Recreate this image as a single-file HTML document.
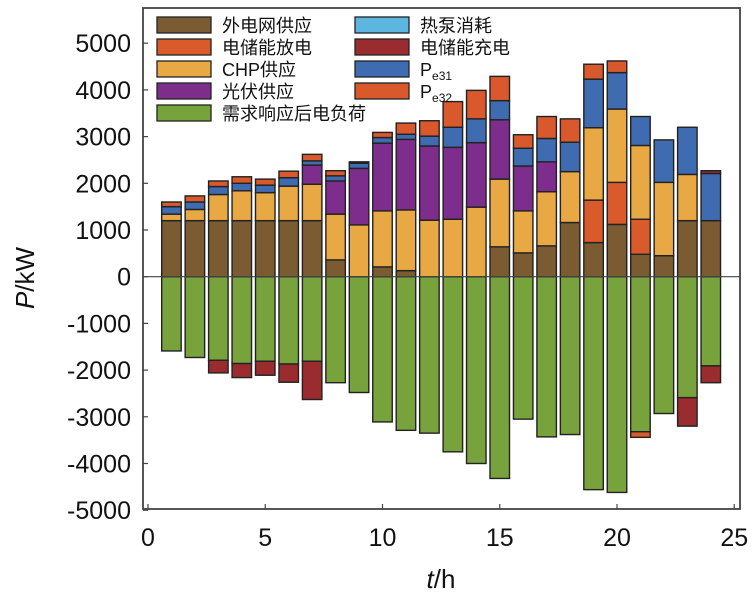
<!DOCTYPE html>
<html><head><meta charset="utf-8"><style>
body{margin:0;background:#fff;}
svg text{font-family:"Liberation Sans","Noto Sans CJK SC",sans-serif;}
</style></head><body>
<svg id="chart" width="755" height="599" viewBox="0 0 755 599" xmlns="http://www.w3.org/2000/svg">
<g id="bars"></g>
<g id="axes"></g>
<g id="legend"></g>
</svg>
<script>
const hours=[1,2,3,4,5,6,7,8,9,10,11,12,13,14,15,16,17,18,19,20,21,22,23,24];
const gridSupply=[1200,1200,1200,1200,1200,1200,1200,360,0,210,130,0,0,0,640,510,660,1160,730,1120,480,450,1200,1200];
const storageDischarge=[0,0,0,0,0,0,0,0,0,0,0,0,0,0,0,0,0,0,910,900,750,0,0,0];
const chpSupply=[140,240,560,640,600,740,780,980,1110,1200,1300,1210,1230,1490,1450,900,1160,1090,1550,1570,1580,1570,990,0];
const pvSupply=[0,0,0,0,0,0,410,710,1210,1450,1510,1590,1540,1380,1270,960,640,0,0,0,0,0,0,0];
const heatPump=[0,0,0,0,0,0,0,0,0,0,0,0,0,0,0,0,0,0,0,0,0,0,0,0];
const pe31=[160,160,170,160,160,180,90,110,110,120,110,210,430,510,410,380,500,630,1040,780,620,910,1010,1010];
const pe32=[100,130,120,140,130,140,140,110,30,110,240,330,550,610,520,290,470,500,320,250,0,0,0,0];
const storageChargePos=[0,0,0,0,0,0,0,0,0,0,0,0,0,0,0,0,0,0,0,0,0,0,0,60];
const loadAfterDR=[1590,1730,1790,1860,1810,1870,1810,2270,2480,3110,3290,3350,3750,4000,4320,3050,3430,3380,4560,4620,3320,2930,2590,1910];
const storageCharge=[0,0,270,300,300,390,820,0,0,0,0,0,0,0,0,0,0,0,0,0,0,0,610,360];
const pe32Neg=[0,0,0,0,0,0,0,0,0,0,0,0,0,0,0,0,0,0,0,0,120,0,0,0];
const xTicks=[0,5,10,15,20,25];
const yTicks=[-5000,-4000,-3000,-2000,-1000,0,1000,2000,3000,4000,5000];

const NS="http://www.w3.org/2000/svg";
const X0=148,XS=23.45,Y0=276.7,YS=0.0467;
const L=143,R=740,T=8,B=509;
function xS(v){return X0+v*XS;}
function yS(v){return Y0-v*YS;}
function mk(tag,attrs,parent){const e=document.createElementNS(NS,tag);for(const k in attrs)e.setAttribute(k,attrs[k]);parent.appendChild(e);return e;}
const C={grid:"#7a5b32",dis:"#d95a2b",chp:"#e8a843",pv:"#7d2e8c",hp:"#5cb6e0",chg:"#9a2b2e",pe31:"#3f6bb0",pe32:"#d9582c",load:"#78a23c"};
const bars=document.getElementById('bars');
const posSeries=[[gridSupply,C.grid,'grid'],[storageDischarge,C.dis,'discharge'],[chpSupply,C.chp,'chp'],[pvSupply,C.pv,'pv'],[heatPump,C.hp,'heatpump'],[pe31,C.pe31,'pe31'],[pe32,C.pe32,'pe32'],[storageChargePos,C.chg,'charge']];
const negSeries=[[loadAfterDR,C.load,'load'],[storageCharge,C.chg,'charge'],[pe32Neg,C.pe32,'pe32']];
const bw=19.5;
hours.forEach((h,i)=>{
  let acc=0;
  posSeries.forEach(([arr,col,nm])=>{
    const v=arr[i]; if(!v) return;
    const r=mk('rect',{x:xS(h)-bw/2,y:yS(acc+v),width:bw,height:v*YS,fill:col,stroke:"#222","stroke-width":1.4},bars);
    
    
    acc+=v;
  });
  let nacc=0;
  negSeries.forEach(([arr,col,nm])=>{
    const v=arr[i]; if(!v) return;
    const r=mk('rect',{x:xS(h)-bw/2,y:yS(-nacc),width:bw,height:v*YS,fill:col,stroke:"#222","stroke-width":1.4},bars);
    
    
    nacc+=v;
  });
});
const ax=document.getElementById('axes');
mk('line',{x1:L,y1:Y0,x2:R,y2:Y0,stroke:"#444","stroke-width":1.2},ax);
const fr=mk('rect',{x:L,y:T,width:R-L,height:B-T,fill:"none",stroke:"#444","stroke-width":1.8},ax);


yTicks.forEach(v=>{
  mk('line',{x1:L,y1:yS(v),x2:L+5,y2:yS(v),stroke:"#444","stroke-width":1.2},ax);
  const t=mk('text',{x:131,y:yS(v)+9,"text-anchor":"end","font-size":25,fill:"#111"},ax);
  t.textContent=v;
  
  
});
xTicks.forEach(v=>{
  mk('line',{x1:xS(v),y1:B,x2:xS(v),y2:B-5,stroke:"#444","stroke-width":1.2},ax);
  const t=mk('text',{x:xS(v),y:546,"text-anchor":"middle","font-size":25,fill:"#111"},ax);
  t.textContent=v;
  
  
});
const yt=mk('text',{x:0,y:0,transform:"translate(34,278) rotate(-90)","text-anchor":"middle","font-size":26,fill:"#111"},ax);
yt.innerHTML='<tspan font-style="italic">P</tspan>/kW';


const xt=mk('text',{x:441,y:588,"text-anchor":"middle","font-size":26,fill:"#111"},ax);
xt.innerHTML='<tspan font-style="italic">t</tspan>/h';


const lg=document.getElementById('legend');
const items=[[157,25,C.grid,'外电网供应'],[157,47,C.dis,'电储能放电'],[157,69,C.chp,'CHP供应'],[157,91,C.pv,'光伏供应'],[157,113,C.load,'需求响应后电负荷'],
[355,25,C.hp,'热泵消耗'],[355,47,C.chg,'电储能充电'],[355,69,C.pe31,'P|e31'],[355,91,C.pe32,'P|e32']];
items.forEach(([x,y,c,l])=>{
  const g=mk('g',{},lg);
  
  
  mk('rect',{x:x,y:y-8,width:54,height:16,fill:c,stroke:"#222","stroke-width":1.3},g);
  const t=mk('text',{x:x+65,y:y+7,"font-size":18,fill:"#111"},g);
  if(l.includes('|')){const p=l.split('|');t.innerHTML=p[0]+'<tspan font-size="12" dy="4">'+p[1]+'</tspan>';}
  else t.textContent=l;
});
</script>
</body></html>
